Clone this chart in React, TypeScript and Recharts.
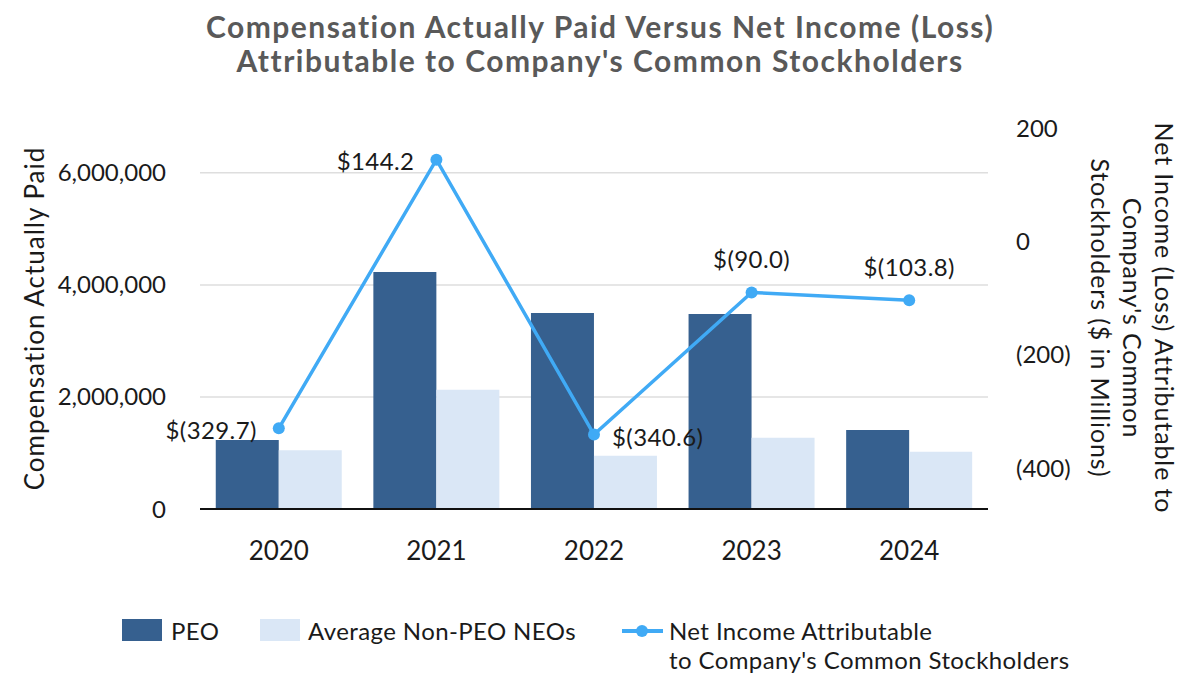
import React from 'react';
import { ComposedChart, Bar, Line, XAxis, YAxis, CartesianGrid, LabelList } from 'recharts';

const years = ['2020', '2021', '2022', '2023', '2024'];
const peoPay = [1230000, 4230000, 3500000, 3480000, 1410000];
const nonPeoPay = [1050000, 2130000, 950000, 1270000, 1020000];
const netIncome = [-329.7, 144.2, -340.6, -90.0, -103.8];
const leftTicks = [0, 2000000, 4000000, 6000000];
const rightTicks = [-400, -200, 0, 200];

const FONT = 'Lato, "Noto Sans", sans-serif';
const TEXT = '#1a1a1a';
const PEO_COLOR = '#36608f';
const NON_PEO_COLOR = '#dae7f6';
const LINE_COLOR = '#40aaf5';

const data = years.map((year, i) => ({
  year,
  peo: peoPay[i],
  nonPeo: nonPeoPay[i],
  netIncome: netIncome[i],
}));

const fmtMoney = (v: number) => (v < 0 ? `$(${Math.abs(v).toFixed(1)})` : `$${v.toFixed(1)}`);
const fmtRight = (v: number) => (v < 0 ? `(${Math.abs(v)})` : `${v}`);

// where each point label sits relative to its dot
const labelPlace = ['left', 'left', 'right', 'top', 'top'];

function PointLabel(props: any) {
  const { x, y, value, index } = props;
  const place = labelPlace[index];
  let tx = x, ty = y, anchor: any = 'middle';
  if (place === 'left') { tx = x - 22; anchor = 'end'; ty = y + 1; }
  if (place === 'right') { tx = x + 18; anchor = 'start'; ty = y + 2; }
  if (place === 'top') { ty = y - 34; }
  return (
    <text x={tx} y={ty} textAnchor={anchor} dominantBaseline="central" fontSize={24} letterSpacing={0.4}
      fontFamily={FONT} fill={TEXT}>
      {fmtMoney(value)}
    </text>
  );
}

function RightAxisLabel() {
  const cy = 318;
  const lines = ['Net Income (Loss) Attributable to', "Company's Common", 'Stockholders ($ in Millions)'];
  const xs = [1165, 1133, 1101];
  return (
    <g>
      {lines.map((l, i) => (
        <text key={i} x={xs[i]} y={cy} transform={`rotate(90 ${xs[i]} ${cy})`} textAnchor="middle"
          dominantBaseline="central" fontSize={25} letterSpacing={0.9} fontFamily={FONT} fill={TEXT}>{l}</text>
      ))}
    </g>
  );
}

const legendText: React.CSSProperties = { position: 'absolute', fontSize: 24, letterSpacing: 0.4, color: TEXT, lineHeight: '29px' };

export default function App() {
  return (
    <div style={{ position: 'absolute', left: 0, top: 0, width: 1200, height: 700, background: '#fff', fontFamily: FONT }}>
      <div style={{ position: 'absolute', top: 9, left: 0, width: 1200, textAlign: 'center', fontSize: 30, fontWeight: 700,
        letterSpacing: 1.5, color: '#595959', lineHeight: '34px' }}>
        Compensation Actually Paid Versus Net Income (Loss)<br />
        Attributable to Company's Common Stockholders
      </div>
      <ComposedChart width={1200} height={700} data={data} margin={{ top: 128, right: 112, bottom: 131, left: 80 }}
        barCategoryGap="10%" barGap={0}>
        <CartesianGrid yAxisId="left" vertical={false} horizontalValues={[2000000, 4000000, 6000000]}
          stroke="#dedede" strokeWidth={1.5} />
        <XAxis dataKey="year" height={60} tickLine={false} tickMargin={27} axisLine={{ stroke: '#111', strokeWidth: 2 }}
          tick={{ fontSize: 26, fill: TEXT, fontFamily: FONT }} />
        <YAxis yAxisId="left" width={120} domain={[0, 6800000]} ticks={leftTicks} axisLine={false} tickLine={false}
          tickMargin={28} tickFormatter={(v: number) => v.toLocaleString('en-US')}
          tick={{ fontSize: 24, fill: TEXT, fontFamily: FONT }}
          label={{ value: 'Compensation Actually Paid', angle: -90, position: 'insideLeft', dx: -50, dy: 0, fontSize: 26,
            letterSpacing: 1, fill: TEXT, fontFamily: FONT, style: { textAnchor: 'middle' } }} />
        <YAxis yAxisId="right" orientation="right" width={100} domain={[-472, 200]} ticks={rightTicks} axisLine={false}
          tickLine={false} tickMargin={22} tickFormatter={fmtRight}
          tick={{ fontSize: 24, fill: TEXT, fontFamily: FONT, textAnchor: 'start' }}
          label={<RightAxisLabel />} />
        <Bar yAxisId="left" dataKey="peo" fill={PEO_COLOR} isAnimationActive={false} />
        <Bar yAxisId="left" dataKey="nonPeo" fill={NON_PEO_COLOR} isAnimationActive={false} />
        <Line yAxisId="right" dataKey="netIncome" stroke={LINE_COLOR} strokeWidth={3.5}
          dot={{ r: 6, fill: LINE_COLOR, stroke: LINE_COLOR, strokeWidth: 0 }} isAnimationActive={false}>
          <LabelList dataKey="netIncome" content={<PointLabel />} />
        </Line>
      </ComposedChart>
      <div style={{ position: 'absolute', top: 619, left: 122, width: 40, height: 22, background: PEO_COLOR }} />
      <div style={{ ...legendText, top: 616, left: 171 }}>PEO</div>
      <div style={{ position: 'absolute', top: 619, left: 260, width: 40, height: 22, background: NON_PEO_COLOR }} />
      <div style={{ ...legendText, top: 616, left: 308 }}>Average Non-PEO NEOs</div>
      <div style={{ position: 'absolute', top: 629, left: 622, width: 41, height: 4, background: LINE_COLOR }} />
      <div style={{ position: 'absolute', top: 625, left: 636, width: 12, height: 12, borderRadius: 6, background: LINE_COLOR }} />
      <div style={{ ...legendText, top: 616, left: 669 }}>
        Net Income Attributable<br />to Company's Common Stockholders
      </div>
    </div>
  );
}
